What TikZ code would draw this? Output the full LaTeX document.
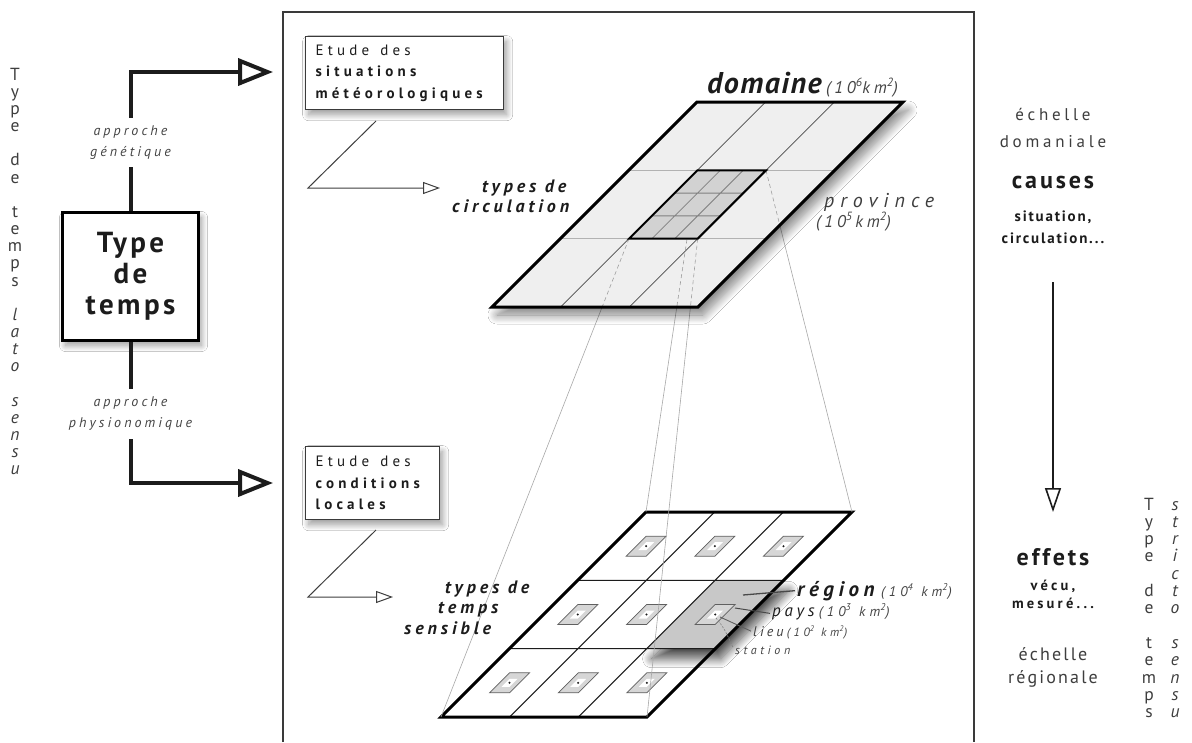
\documentclass[tikz,border=0pt]{standalone}
\usepackage{fontspec}
\setmainfont{PT Sans}
\newfontfamily\trkA[LetterSpace=22]{PT Sans}
\newfontfamily\trkB[LetterSpace=12]{PT Sans}
\newfontfamily\trkC[LetterSpace=5]{PT Sans}
\newfontfamily\trkD[LetterSpace=30]{PT Sans}
\newfontfamily\trkE[LetterSpace=28]{PT Sans}
\usetikzlibrary{arrows.meta,shadows.blur}
\definecolor{ink}{HTML}{1C1C1C}
\definecolor{lab}{HTML}{444444}
\definecolor{framec}{HTML}{3A3A3A}
\definecolor{topfill}{HTML}{EFEFEF}
\definecolor{cellfill}{HTML}{D2D2D2}
\definecolor{regfill}{HTML}{C8C8C8}
\definecolor{lieufill}{HTML}{D6D6D6}
\definecolor{projc}{HTML}{A8A8A8}
\newcommand{\fsz}[2]{\fontsize{#1}{#2}\selectfont}
\begin{document}
\begin{tikzpicture}[x=1pt,y=-1pt,
  every node/.style={text=ink},
  softshadow/.style={blur shadow={shadow xshift=3pt, shadow yshift=-5pt, shadow blur radius=6pt, shadow blur steps=20, shadow opacity=40}},
  ebox/.style={draw=framec, line width=1.3pt, fill=white, softshadow, align=left, inner xsep=10pt, anchor=north west, font=\trkE\fsz{15}{21.5}},
  lbl/.style={fill=white, inner xsep=2pt, inner ysep=8pt, align=center, text=lab, font=\trkA\itshape\fsz{14}{21}},
  bigarrow/.style={line width=4pt, draw=ink, -{Triangle[open, length=35pt, width=27pt]}},
  smallarrow/.style={line width=1pt, draw=ink!85, -{Triangle[open, length=17pt, width=12pt]}},
  vlet/.style={anchor=base, inner sep=0pt, font=\fsz{17.5}{17}, text=ink!85},
  vleti/.style={vlet, font=\itshape\fsz{17.5}{17}},
  lieu/.style={fill=lieufill, draw=ink!70, line width=0.7pt},
  ital/.style={anchor=base west, inner sep=0pt},
  tlab/.style={ital, font=\trkA\bfseries\itshape\fsz{18}{18}}
]
\useasboundingbox (0,0) rectangle (1192,742);
\fill[white] (0,0) rectangle (1192,742);

% frame
\draw[framec, line width=1.4pt] (283,742) -- (283,12) -- (974,12) -- (974,742);

% grid coordinates
\foreach \u in {0,1,2,3}{\foreach \v in {0,1,2,3}{
  \coordinate (T\u\v) at ({697+206*\u/3-205*\v/3},{102+205*\v/3});
  \coordinate (B\u\v) at ({646+206*\u/3-205*\v/3},{512+205*\v/3});
  \coordinate (M\u\v) at ({697+206*(3+\u)/9-205*(3+\v)/9},{102+205*(3+\v)/9});
}}

% ---------- lower plane ----------
\fill[white] (B00) -- (B30) -- (B33) -- (B03) -- cycle;
\fill[regfill, blur shadow={shadow xshift=5pt, shadow yshift=-10pt, shadow blur radius=9pt, shadow blur steps=20, shadow opacity=70}] (B21) -- (B31) -- (B32) -- (B22) -- cycle;
\foreach \i in {0,1,2}{\foreach \j in {0,1,2}{
  \coordinate (c\i\j) at ({646+206*(\i+0.5)/3-205*(\j+0.5)/3},{512+205*(\j+0.5)/3});
  \draw[lieu, shift={(c\i\j)}] (0,-10) -- (20,-10) -- (0,10) -- (-20,10) -- cycle;
  \fill[white, shift={(c\i\j)}] (0,-4) -- (8,-4) -- (0,4) -- (-8,4) -- cycle;
  \fill[ink, shift={(c\i\j)}] (0,0) circle (1.1);
}}
\draw[ink, line width=1.1pt] (B01) -- (B31) (B02) -- (B32) (B10) -- (B13) (B20) -- (B23);
\draw[black, line width=3pt] (B00) -- (B30) -- (B33) -- (B03) -- cycle;

% projection lines
\draw[projc, line width=0.6pt] (T11) -- (B00) (T21) -- (B30) (T12) -- (B03) (T22) -- (B33);

% ---------- upper plane ----------
\fill[topfill, blur shadow={shadow xshift=5pt, shadow yshift=-8pt, shadow blur radius=9pt, shadow blur steps=20, shadow opacity=50}] (T00) -- (T30) -- (T33) -- (T03) -- cycle;
\draw[gray!60, line width=0.9pt] (T01) -- (T31) (T02) -- (T32);
\draw[ink!80, line width=0.7pt] (T10) -- (T13) (T20) -- (T23);
\begin{scope}
  \clip (T00) -- (T30) -- (T33) -- (T03) -- cycle;
  \draw[gray!75, line width=0.6pt, dash pattern=on 4pt off 3pt] (T11) -- (B00) (T21) -- (B30) (T12) -- (B03) (T22) -- (B33);
\end{scope}
\fill[cellfill] (T11) -- (T21) -- (T22) -- (T12) -- cycle;
\draw[gray, line width=0.8pt] (M10) -- (M13) (M20) -- (M23) (M01) -- (M31) (M02) -- (M32);
\draw[black, line width=2pt] (T11) -- (T21) -- (T22) -- (T12) -- cycle;
\draw[black, line width=3pt] (T00) -- (T30) -- (T33) -- (T03) -- cycle;

% ---------- Type de temps ----------
\node[draw=black, line width=3pt, fill=white, softshadow, minimum width=136pt, minimum height=128pt, align=center, inner sep=0pt, font=\trkB\bfseries\fsz{29}{31}] (tdt) at (130.5,276.5) {Type\\de\\temps};
\coordinate (g1) at (130.5,72);
\coordinate (g2) at (273,72);
\coordinate (h1) at (130.5,483);
\coordinate (h2) at (273,483);
\draw[bigarrow] (tdt.north) -- (g1) -- (g2);
\draw[bigarrow] (tdt.south) -- (h1) -- (h2);
\node[lbl] (ag) at (130.5,142.5) {approche\\génétique};
\node[lbl] (ap) at (130.5,414) {approche\\physionomique};

% ---------- study boxes ----------
\node[ebox, text width=178pt, minimum height=73pt] (b1) at (305,36) {Etude\hspace{6pt} des\\\textbf{situations}\\\textbf{météorologiques}};
\node[ebox, text width=114pt, minimum height=73pt] (b2) at (305,446) {Etude\hspace{6pt} des\\\textbf{conditions}\\\textbf{locales}};
\coordinate (s1a) at (376,121);
\coordinate (s1b) at (308,188);
\coordinate (s1c) at (440,188);
\draw[smallarrow] (s1a) -- (s1b) -- (s1c);
\coordinate (s2a) at (376,530);
\coordinate (s2b) at (308,597);
\coordinate (s2c) at (393,597);
\draw[smallarrow] (s2a) -- (s2b) -- (s2c);

% ---------- labels upper ----------
\node[ital, font=\trkC\bfseries\itshape\fsz{30}{30}] (dom) at (707,93) {domaine};
\node[ital, font=\trkA\itshape\fsz{17}{17}, text=lab] (domk) at ([xshift=4pt]dom.base east) {(10\textsuperscript{6}km\textsuperscript{2})};
\node[tlab] (tc1) at (482,192) {types de};
\node[tlab] (tc2) at (452,212) {circulation};
\node[ital, font=\trkD\itshape\fsz{20}{20}, text=ink!85] (prov) at (824,207) {province};
\node[ital, font=\trkA\itshape\fsz{17}{17}, text=lab] (provk) at (816,227) {(10\textsuperscript{5}\,km\textsuperscript{2})};

% ---------- labels lower ----------
\node[tlab] (ts1) at (445,593) {types de};
\node[tlab] (ts2) at (438,613) {temps};
\node[tlab] (ts3) at (404,634) {sensible};
\node[ital, font=\trkA\bfseries\itshape\fsz{21}{21}] (reg) at (797,596) {région};
\node[ital, font=\trkD\itshape\fsz{14}{14}, text=lab] (regk) at ([xshift=6pt]reg.base east) {(10\textsuperscript{4} km\textsuperscript{2})};
\node[ital, font=\trkA\itshape\fsz{17}{17}] (pay) at (772,616) {pays};
\node[ital, font=\trkD\itshape\fsz{14}{14}, text=lab] (payk) at ([xshift=4pt]pay.base east) {(10\textsuperscript{3} km\textsuperscript{2})};
\node[ital, font=\trkA\itshape\fsz{14}{14}, text=ink!85] (lie) at (753,636) {lieu};
\node[ital, font=\trkD\itshape\fsz{12}{12}, text=lab] (liek) at ([xshift=3pt]lie.base east) {(10\textsuperscript{2} km\textsuperscript{2})};
\node[ital, font=\trkD\itshape\fsz{12}{12}, text=lab] (sta) at (735,654) {station};
\coordinate (lr) at (743,595);
\coordinate (lp) at (735,608);
\coordinate (ll) at (720,617);
\coordinate (ls) at (716,618);
\draw[ink!80, line width=1.3pt] (lr) -- ([xshift=-2pt]reg.west);
\draw[ink!80, line width=1pt] (lp) -- ([xshift=-2pt]pay.west);
\draw[ink!70, line width=0.9pt] (ll) -- ([xshift=-2pt]lie.west);
\draw[gray, line width=0.6pt, dash pattern=on 2pt off 1.5pt] (ls) .. controls (724,628) .. ([xshift=-2pt,yshift=-2pt]sta.north west);

% ---------- right column ----------
\node[font=\trkA\fsz{17}{27}, align=center, text=ink!85] (ech1) at (1053,128) {échelle\\domaniale};
\node[font=\trkB\bfseries\fsz{24}{24}] (cau) at (1053,182) {causes};
\node[font=\trkB\bfseries\fsz{15}{22}, align=center] (sit) at (1053,227) {situation,\\circulation...};
\coordinate (r1) at (1053,282);
\coordinate (r2) at (1053,512);
\draw[line width=1.6pt, draw=ink, -{Triangle[open, length=24pt, width=16pt]}] (r1) -- (r2);
\node[font=\trkB\bfseries\fsz{24}{24}] (eff) at (1053,557) {effets};
\node[font=\trkA\bfseries\fsz{14.5}{18}, align=center] (vec) at (1053,594) {vécu,\\mesuré...};
\node[font=\trkB\fsz{18}{23}, align=center, text=ink!85] (ech2) at (1053,667) {échelle\\régionale};

% ---------- vertical texts ----------
\foreach \c/\r [count=\k] in {T/0,y/1,p/2,e/3,d/5,e/6,t/8,e/9,m/10,p/11,s/12}
  \node[vlet] (lv\k) at (15,{80+17.17*\r}) {\c};
\foreach \c/\r [count=\k] in {l/14,a/15,t/16,o/17,s/19,e/20,n/21,s/22,u/23}
  \node[vleti] (li\k) at (15,{80+17.17*\r}) {\c};
\foreach \c/\r [count=\k] in {T/0,y/1,p/2,e/3,d/5,e/6,t/8,e/9,m/10,p/11,s/12}
  \node[vlet] (rv\k) at (1149,{510+17.3*\r}) {\c};
\foreach \c/\r [count=\k] in {s/0,t/1,r/2,i/3,c/4,t/5,o/6,s/8,e/9,n/10,s/11,u/12}
  \node[vleti] (ri\k) at (1175,{510+17.3*\r}) {\c};
\end{tikzpicture}
\end{document}
